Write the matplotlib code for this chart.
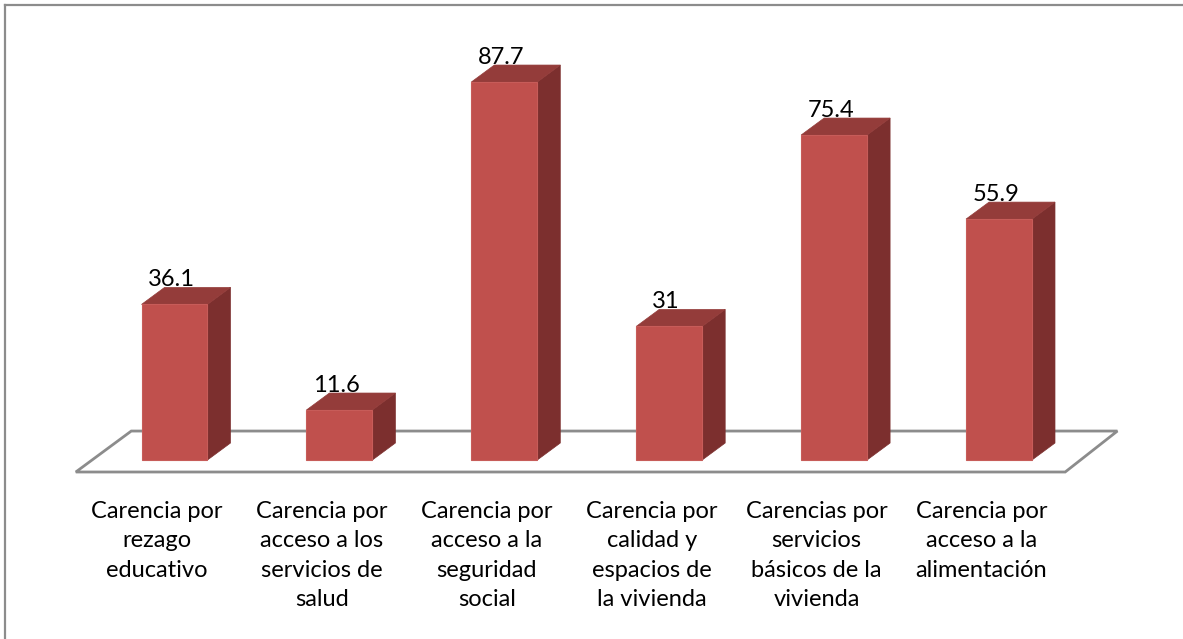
import matplotlib.pyplot as plt
from matplotlib.patches import Polygon
from matplotlib.lines import Line2D

categories = [
    "Carencia por\nrezago\neducativo",
    "Carencia por\nacceso a los\nservicios de\nsalud",
    "Carencia por\nacceso a la\nseguridad\nsocial",
    "Carencia por\ncalidad y\nespacios de\nla vivienda",
    "Carencias por\nservicios\nbásicos de la\nvivienda",
    "Carencia por\nacceso a la\nalimentación",
]
values = [36.1, 11.6, 87.7, 31, 75.4, 55.9]
value_labels = ["36.1", "11.6", "87.7", "31", "75.4", "55.9"]

FRONT = "#C0504D"
TOP = "#943C3A"
SIDE = "#7C2F2E"
GRID = "#8C8C8C"

plt.rcParams["font.family"] = ["Lato", "DejaVu Sans"]

fig = plt.figure(figsize=(11.83, 6.39), dpi=100)
ax = fig.add_axes([0, 0, 1, 1])
ax.set_xlim(-1.0582, 6.1158)
ax.set_ylim(-41.53, 106.73)
ax.axis("off")

# oblique depth offset for one bar depth (x in categories, y in value units)
dx, dy = 0.1395, 3.94
half_w = 0.2


def proj(x, y, z):
    return (x + z * dx, y + z * dy)


# floor
z0, z1 = -0.706, 1.706
floor = [proj(-0.5, 0, z0), proj(5.5, 0, z0), proj(5.48, 0, z1), proj(-0.5, 0, z1)]
ax.add_patch(Polygon(floor, closed=True, facecolor="white", edgecolor=GRID,
                     linewidth=2, zorder=1))

for i, v in enumerate(values):
    xl, xr = i - half_w, i + half_w
    front = [(xl, 0), (xr, 0), (xr, v), (xl, v)]
    top = [(xl, v), (xr, v), proj(xr, v, 1), proj(xl, v, 1)]
    side = [(xr, 0), proj(xr, 0, 1), proj(xr, v, 1), (xr, v)]
    ax.add_patch(Polygon(side, closed=True, facecolor=SIDE, edgecolor=SIDE,
                         linewidth=0.5, zorder=2))
    ax.add_patch(Polygon(top, closed=True, facecolor=TOP, edgecolor=TOP,
                         linewidth=0.5, zorder=2))
    ax.add_patch(Polygon(front, closed=True, facecolor=FRONT, edgecolor="#C75C59",
                         linewidth=0.8, zorder=3))
    ax.text(i - 0.02, v + dy + 0.3, value_labels[i], ha="center", va="baseline",
            fontsize=17, color="black", zorder=4)

for i, lab in enumerate(categories):
    ax.text(i - 0.106, -9.4, lab, ha="center", va="top", fontsize=17,
            linespacing=1.5, color="black", multialignment="center")

# chart frame (top and left edges)
fig.add_artist(Line2D([5 / 1183, 5 / 1183], [0, 1 - 5 / 639], transform=fig.transFigure,
                      color=GRID, linewidth=1.6))
fig.add_artist(Line2D([5 / 1183, 1], [1 - 5 / 639, 1 - 5 / 639], transform=fig.transFigure,
                      color=GRID, linewidth=1.6))

fig.savefig("out.png", dpi=100)
plt.close(fig)
